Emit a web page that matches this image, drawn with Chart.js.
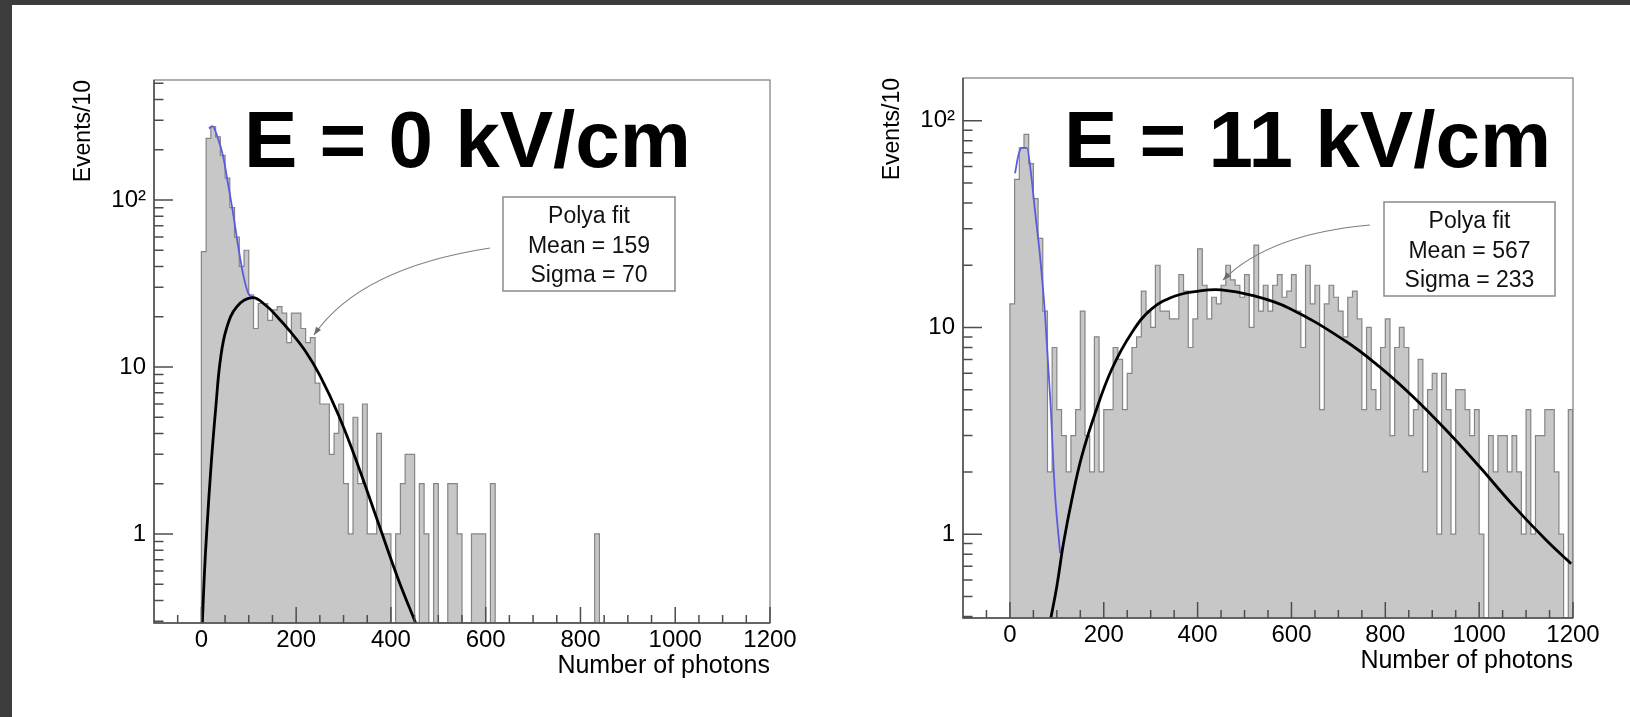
<!DOCTYPE html>
<html>
<head>
<meta charset="utf-8">
<script src="https://cdn.jsdelivr.net/npm/chart.js@4.4.0/dist/chart.umd.min.js"></script>
<style>
  html, body { margin: 0; padding: 0; background: #fff; }
  body { width: 1630px; height: 717px; position: relative; overflow: hidden; }
  .band { position: absolute; background: #3c3c3c; }
  .panel { position: absolute; }
</style>
</head>
<body>
<div class="band" style="left:0;top:0;width:1630px;height:5px"></div>
<div class="band" style="left:0;top:0;width:12px;height:717px"></div>
<div class="panel" style="left:30px;top:70px;width:790px;height:630px"><canvas id="chartE0"></canvas></div>
<div class="panel" style="left:839px;top:68px;width:784px;height:627px"><canvas id="chartE11"></canvas></div>
<script>
// histogram: 10-photon bins, first bin starts at -10
const BIN_WIDTH = 10;
const FIRST_BIN = -10;

// E = 0 kV/cm, bins -10 .. 840
const countsE0 = [
  0, 49, 234, 275, 239, 185, 135, 90, 60, 40,
  50, 27, 17, 24, 24, 19, 22, 23, 21, 14,
  21, 21, 17, 14, 15, 8, 6, 6, 3, 4,
  6, 2, 1, 5, 2, 6, 1, 1, 4, 1,
  1, 0, 1, 2, 3, 3, 0, 2, 1, 0,
  2, 0, 0, 2, 2, 1, 0, 0, 1, 1,
  1, 0, 2, 0, 0, 0, 0, 0, 0, 0,
  0, 0, 0, 0, 0, 0, 0, 0, 0, 0,
  0, 0, 0, 0, 1, 0
];

// E = 11 kV/cm, bins -10 .. 1200
const countsE11 = [
  0, 13, 52, 74, 86, 62, 42, 27, 12, 2,
  8, 4, 3, 2, 3, 4, 12, 3, 2, 9,
  2, 4, 4, 8, 7, 4, 6, 8, 9, 15,
  12, 10, 20, 12, 12, 11, 11, 18, 15, 8,
  11, 24, 16, 11, 14, 13, 16, 20, 17, 16,
  14, 18, 10, 25, 12, 16, 12, 16, 18, 14,
  15, 18, 12, 8, 20, 13, 16, 4, 13, 16,
  14, 12, 9, 14, 15, 11, 4, 10, 5, 4,
  8, 11, 3, 8, 10, 8, 3, 4, 7, 2,
  5, 6, 1, 6, 4, 1, 5, 5, 4, 3,
  4, 1, 0, 3, 2, 3, 3, 2, 3, 2,
  1, 4, 1, 3, 3, 4, 4, 2, 1, 0,
  4, 0
];

// fitted curves (photons, events/10)
const pedE0X = [16, 23, 35, 46, 56, 67, 78, 88, 99, 109];
const pedE0Y = [268, 277, 234, 182, 126, 83, 52, 36, 27.6, 26.1];
const polyaE0X = [2, 6, 11, 21, 31, 40, 53, 75, 108, 135, 160, 190, 219, 250, 290, 330, 374, 416, 455];
const polyaE0Y = [0.29, 0.55, 1.0, 2.7, 6.0, 11, 17, 23, 26, 23.5, 20, 16, 12.5, 8.9, 5.1, 2.6, 1.15, 0.53, 0.28];

const pedE11X = [11, 18, 25, 36, 46, 53, 64, 75, 86, 96, 107];
const pedE11Y = [55.7, 68, 74, 74, 53, 37.5, 22.3, 11.4, 4.5, 1.58, 0.81];
const polyaE11X = [86, 100, 114, 132, 153, 182, 217, 260, 302, 352, 402, 450, 516, 595, 715, 786, 858, 929, 1000, 1071, 1142, 1196];
const polyaE11Y = [0.38, 0.56, 0.9, 1.47, 2.38, 3.87, 6.28, 9.46, 12.3, 14.2, 15.0, 15.2, 14.3, 12.4, 8.6, 6.5, 4.65, 3.2, 2.13, 1.39, 0.94, 0.72];

const xTicks = [0, 200, 400, 600, 800, 1000, 1200];
const yTicks = [1, 10, 100];
const yTickLabels = ["1", "10", "10\u00B2"];

const FONT = '"Liberation Sans", Arial, Helvetica, sans-serif';

// ROOT-like frame, inward ticks, fit box and big label
const rootStyle = {
  id: "rootStyle",
  afterDraw(chart, args, opts) {
    const { ctx, chartArea: a, scales } = chart;
    const x = scales.x, y = scales.y;
    ctx.save();
    ctx.strokeStyle = "#7a7a7a";
    ctx.lineWidth = 1.2;
    ctx.strokeRect(a.left, a.top, a.right - a.left, a.bottom - a.top);

    ctx.strokeStyle = "#4d4d4d";
    ctx.lineWidth = 1.5;
    ctx.beginPath();
    ctx.moveTo(a.left, a.top);
    ctx.lineTo(a.left, a.bottom);
    ctx.lineTo(a.right, a.bottom);
    for (let v = -50; v <= 1200; v += 50) {
      const px = x.getPixelForValue(v);
      if (px < a.left - 1 || px > a.right + 1) continue;
      const len = v % 200 === 0 ? 16 : 8;
      ctx.moveTo(px, a.bottom);
      ctx.lineTo(px, a.bottom - len);
    }
    for (let d = -1; d <= 2; d++) {
      for (let m = 1; m <= 9; m++) {
        const v = m * Math.pow(10, d);
        if (v < y.min || v > y.max) continue;
        const py = y.getPixelForValue(v);
        ctx.moveTo(a.left, py);
        ctx.lineTo(a.left + (m === 1 ? 19 : 9.5), py);
      }
    }
    ctx.stroke();

    // curved pointer from the fit box
    const ar = opts.arrow;
    const p0 = [a.left + ar[0], a.top + ar[1]];
    const c = [a.left + ar[2], a.top + ar[3]];
    const p1 = [a.left + ar[4], a.top + ar[5]];
    ctx.strokeStyle = "#7d7d7d";
    ctx.lineWidth = 1.1;
    ctx.beginPath();
    ctx.moveTo(p0[0], p0[1]);
    ctx.quadraticCurveTo(c[0], c[1], p1[0], p1[1]);
    ctx.stroke();
    const ang = Math.atan2(p1[1] - c[1], p1[0] - c[0]);
    ctx.fillStyle = "#6a6a6a";
    ctx.beginPath();
    ctx.moveTo(p1[0], p1[1]);
    ctx.lineTo(p1[0] - 8 * Math.cos(ang) + 3 * Math.sin(ang), p1[1] - 8 * Math.sin(ang) - 3 * Math.cos(ang));
    ctx.lineTo(p1[0] - 8 * Math.cos(ang) - 3 * Math.sin(ang), p1[1] - 8 * Math.sin(ang) + 3 * Math.cos(ang));
    ctx.closePath();
    ctx.fill();

    // fit result box
    const b = opts.box;
    const bx = a.left + b[0], by = a.top + b[1];
    ctx.fillStyle = "#fff";
    ctx.fillRect(bx, by, b[2], b[3]);
    ctx.strokeStyle = "#8a8a8a";
    ctx.lineWidth = 1.5;
    ctx.strokeRect(bx, by, b[2], b[3]);
    ctx.fillStyle = "#111";
    ctx.font = "23px " + FONT;
    ctx.textAlign = "center";
    ctx.textBaseline = "alphabetic";
    opts.lines.forEach((t, i) => ctx.fillText(t, bx + b[2] / 2, by + 26 + i * 29.5));

    // field label
    ctx.fillStyle = "#000";
    ctx.font = "bold 80px " + FONT;
    ctx.textAlign = "left";
    ctx.fillText(opts.label, a.left + opts.labelPos[0], a.top + opts.labelPos[1]);
    ctx.restore();
  }
};

function toPoints(xs, ys) {
  return xs.map((v, i) => ({ x: v, y: ys[i] }));
}

function createPanel(canvasId, counts, pedX, pedY, fitX, fitY, yMin, yMax, note) {
  // empty bins sit on the bottom of the log axis, as ROOT draws them
  const hist = counts.map((c, i) => ({ x: FIRST_BIN + (i + 0.5) * BIN_WIDTH, y: c > 0 ? c : yMin }));
  const tickFont = { family: FONT, size: 24 };
  const titleFont = { family: FONT, size: 25 };
  new Chart(document.getElementById(canvasId), {
    type: "line",
    data: {
      datasets: [
        {
          data: hist, order: 2, stepped: "middle", fill: "start",
          backgroundColor: "#c7c7c7", borderColor: "#858585", borderWidth: 1.2,
          pointRadius: 0
        },
        {
          data: toPoints(pedX, pedY), order: 1, fill: false,
          borderColor: "#5b5be0", borderWidth: 1.8, pointRadius: 0,
          cubicInterpolationMode: "monotone"
        },
        {
          data: toPoints(fitX, fitY), order: 0, fill: false,
          borderColor: "#000", borderWidth: 2.8, pointRadius: 0,
          tension: 0.4
        }
      ]
    },
    options: {
      responsive: true,
      maintainAspectRatio: false,
      animation: false,
      events: [],
      layout: { padding: { top: 10, right: 50, left: 0, bottom: 0 } },
      plugins: {
        legend: { display: false },
        tooltip: { enabled: false },
        rootStyle: note
      },
      scales: {
        x: {
          type: "linear", min: -100, max: 1200,
          afterFit: (s) => { s.height = 77; s.paddingLeft = 0; s.paddingRight = 0; },
          afterBuildTicks: (s) => { s.ticks = xTicks.map((v) => ({ value: v })); },
          grid: { display: false, drawTicks: false },
          border: { display: false },
          ticks: {
            autoSkip: false, maxRotation: 0, padding: 3, color: "#000", font: tickFont,
            callback: (v) => String(v)
          },
          title: {
            display: true, text: "Number of photons", align: "end", color: "#000",
            font: titleFont, padding: { top: 0, bottom: 19 }
          }
        },
        y: {
          type: "logarithmic", min: yMin, max: yMax,
          afterFit: (s) => { s.width = 124; s.paddingTop = 0; s.paddingBottom = 0; },
          afterBuildTicks: (s) => { s.ticks = yTicks.map((v) => ({ value: v })); },
          grid: { display: false, drawTicks: false },
          border: { display: false },
          ticks: {
            autoSkip: false, padding: 8, color: "#000", font: tickFont,
            callback: (v) => yTickLabels[yTicks.indexOf(v)]
          },
          title: {
            display: true, text: "Events/10", align: "end", color: "#000",
            font: { family: FONT, size: 23 }, padding: { top: 40, bottom: 0 }
          }
        }
      }
    },
    plugins: [rootStyle]
  });
}

createPanel("chartE0", countsE0, pedE0X, pedE0Y, polyaE0X, polyaE0Y, 0.293, 523, {
  label: "E = 0 kV/cm", labelPos: [90, 87],
  box: [349, 117, 172, 94], lines: ["Polya fit", "Mean = 159", "Sigma = 70"],
  arrow: [336, 168, 206, 188, 160, 255]
});
createPanel("chartE11", countsE11, pedE11X, pedE11Y, polyaE11X, polyaE11Y, 0.393, 161, {
  label: "E = 11 kV/cm", labelPos: [101, 89],
  box: [421, 124, 171, 94], lines: ["Polya fit", "Mean = 567", "Sigma = 233"],
  arrow: [407, 147, 306, 156, 260, 202]
});
</script>
</body>
</html>
